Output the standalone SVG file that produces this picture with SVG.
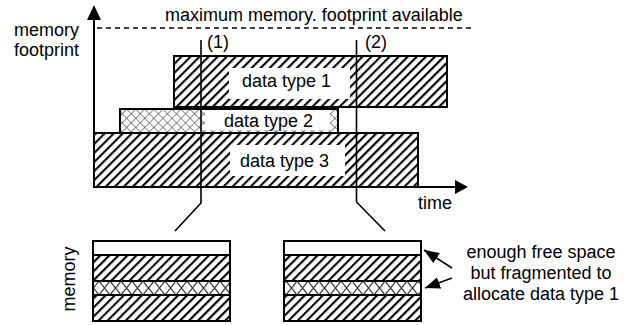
<svg xmlns="http://www.w3.org/2000/svg" width="627" height="325" viewBox="0 0 627 325">
<style>
text{font-family:"Liberation Sans",Arial,sans-serif;font-size:18px;fill:#000}
.box{stroke:#000;stroke-width:2}
.ln{stroke:#000;stroke-width:1.6;fill:none}
.ax{stroke:#000;stroke-width:2;fill:none}
</style>
<defs>
<pattern id="hatch" patternUnits="userSpaceOnUse" width="6.4" height="6.4" patternTransform="rotate(45)">
<rect width="6.4" height="6.4" fill="#fff"/>
<line x1="2" y1="0" x2="2" y2="6.4" stroke="#000" stroke-width="2.1"/>
</pattern>
<pattern id="cross" patternUnits="userSpaceOnUse" width="6.4" height="6.4" patternTransform="rotate(45)">
<rect width="6.4" height="6.4" fill="#fff"/>
<line x1="0" y1="0" x2="0" y2="6.4" stroke="#333" stroke-width="1.1"/>
<line x1="0" y1="0" x2="6.4" y2="0" stroke="#333" stroke-width="1.1"/>
</pattern>
<pattern id="crossm" patternUnits="userSpaceOnUse" x="0" y="281" width="11" height="14">
<rect width="11" height="14" fill="#fff"/>
<path d="M0,0L11,14M11,0L0,14" stroke="#333" stroke-width="1.1"/>
</pattern>
<marker id="ah" markerWidth="15" markerHeight="12" refX="15" refY="6" orient="auto" markerUnits="userSpaceOnUse">
<path d="M0,0L15,6L0,12z" fill="#000"/>
</marker>
</defs>

<g id="axes">
<line class="ax" x1="94" y1="188" x2="94" y2="18"/>
<path d="M87,20L94,5L101,20z" fill="#000"/>
<line class="ax" x1="93" y1="187" x2="456" y2="187"/>
<path d="M455,180L468,187L455,194z" fill="#000"/>
<line x1="97" y1="28" x2="474" y2="28" stroke="#000" stroke-width="1.5" stroke-dasharray="5,4"/>
<text x="14" y="36">memory</text>
<text x="14" y="56">footprint</text>
<text x="165" y="21">maximum memory. footprint available</text>
<text x="418" y="209">time</text>
</g>

<g id="type1">
<rect class="box" x="174" y="56" width="273" height="51" fill="url(#hatch)"/>
<rect x="229" y="68" width="121" height="31" fill="#fff"/>
<text x="242" y="87">data type 1</text>
</g>

<g id="type2">
<rect class="box" x="120" y="109" width="218" height="24" fill="url(#cross)"/>
<rect x="205" y="110" width="125" height="20" fill="#fff"/>
<text x="224" y="127">data type 2</text>
</g>

<g id="type3">
<rect class="box" x="94" y="133" width="324" height="54" fill="url(#hatch)"/>
<rect x="230" y="145" width="115" height="31" fill="#fff"/>
<text x="240" y="167">data type 3</text>
</g>

<g id="connectors">
<polyline class="ln" points="201,40 201,203 175,231"/>
<polyline class="ln" points="356.5,40 356.5,202 385,231"/>
<line class="ln" x1="452" y1="268" x2="424" y2="250" marker-end="url(#ah)"/>
<line class="ln" x1="452" y1="278" x2="425" y2="288" marker-end="url(#ah)"/>
<text x="207" y="48">(1)</text>
<text x="365" y="48">(2)</text>
</g>

<g id="mem1">
<rect x="93" y="241" width="137" height="14" fill="#fff"/>
<rect x="93" y="255" width="137" height="26" fill="url(#hatch)"/>
<rect x="93" y="281" width="137" height="14" fill="url(#crossm)"/>
<rect x="93" y="295" width="137" height="26" fill="url(#hatch)"/>
<rect x="93" y="241" width="137" height="80" fill="none" class="box"/>
<line class="box" x1="93" y1="255" x2="230" y2="255"/>
<line class="box" x1="93" y1="281" x2="230" y2="281"/>
<line class="box" x1="93" y1="295" x2="230" y2="295"/>
</g>

<g id="mem2">
<rect x="284" y="241" width="137" height="14" fill="#fff"/>
<rect x="284" y="255" width="137" height="26" fill="url(#hatch)"/>
<rect x="284" y="281" width="137" height="14" fill="url(#crossm)"/>
<rect x="284" y="295" width="137" height="26" fill="url(#hatch)"/>
<rect x="284" y="241" width="137" height="80" fill="none" class="box"/>
<line class="box" x1="284" y1="255" x2="421" y2="255"/>
<line class="box" x1="284" y1="281" x2="421" y2="281"/>
<line class="box" x1="284" y1="295" x2="421" y2="295"/>
</g>

<g id="labels">
<text transform="translate(75,279) rotate(-90)" text-anchor="middle">memory</text>
<text x="541" y="258" text-anchor="middle">enough free space</text>
<text x="541" y="279" text-anchor="middle">but fragmented to</text>
<text x="541" y="300" text-anchor="middle">allocate data type 1</text>
</g>
</svg>
